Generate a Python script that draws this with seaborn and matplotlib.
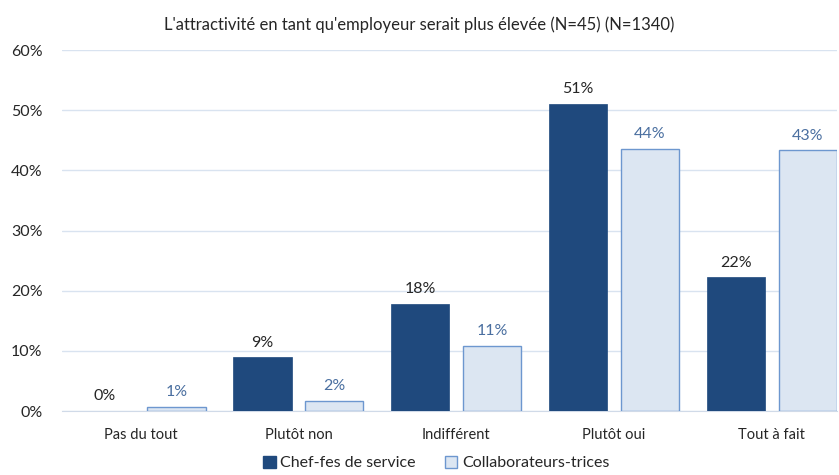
import matplotlib
matplotlib.use("Agg")
import matplotlib.pyplot as plt
import seaborn as sns
import pandas as pd
from matplotlib.patches import Patch

# data
categories = ["Pas du tout", "Plutôt non", "Indifférent", "Plutôt oui", "Tout à fait"]
chefs = [0.0, 8.9, 17.8, 51.1, 22.2]
collabs = [0.7, 1.7, 10.8, 43.6, 43.3]
series = ["Chef-fes de service", "Collaborateurs-trices"]
title = "L'attractivité en tant qu'employeur serait plus élevée (N=45) (N=1340)"

dark = "#1F497D"
light = "#DCE6F2"
light_edge = "#6D97CF"
label_blue = "#4A6FA0"
text_col = "#262626"

df = pd.DataFrame({
    "cat": categories * 2,
    "val": chefs + collabs,
    "grp": [series[0]] * 5 + [series[1]] * 5,
})

sns.set_style("white")
plt.rcParams["font.family"] = ["Lato", "DejaVu Sans"]

fig = plt.figure(figsize=(8.39, 4.75), dpi=100)
ax = fig.add_axes([0.074, 0.1347, 0.924, 0.76])

sns.barplot(data=df, x="cat", y="val", hue="grp", order=categories,
            hue_order=series, palette=[dark, light], saturation=1,
            width=0.91, gap=0.19, legend=False, ax=ax, zorder=3)

for bar in ax.patches[5:]:
    bar.set_edgecolor(light_edge)
    bar.set_linewidth(1.0)
for bar in ax.patches[:5]:
    bar.set_edgecolor(dark)
    bar.set_linewidth(0.5)

for bar, v in zip(ax.patches[:5], chefs):
    ax.text(bar.get_x() + bar.get_width() / 2, v + 1.3, f"{round(v)}%",
            ha="center", va="bottom", fontsize=11.5, color=text_col)
for bar, v in zip(ax.patches[5:], collabs):
    ax.text(bar.get_x() + bar.get_width() / 2, v + 1.3, f"{round(v)}%",
            ha="center", va="bottom", fontsize=11.5, color=label_blue)

ax.set_ylim(0, 60)
ax.set_xlim(-0.498, 4.415)
ax.set_yticks(range(0, 61, 10))
ax.set_yticklabels([f"{t}%" for t in range(0, 61, 10)], fontsize=11.5, color=text_col)
ax.tick_params(axis="x", labelsize=10.5, colors=text_col, length=0, pad=12)
ax.tick_params(axis="y", length=0, pad=14)
ax.grid(axis="y", color="#D9E3F0", linewidth=1, zorder=0)
ax.set_xlabel("")
ax.set_ylabel("")
for s in ["top", "right", "left"]:
    ax.spines[s].set_visible(False)
ax.spines["bottom"].set_color("#D0DAE8")

fig.suptitle(title, y=0.965, fontsize=12, color=text_col)

handles = [Patch(facecolor=dark, edgecolor=dark),
           Patch(facecolor=light, edgecolor=light_edge)]
fig.legend(handles, series, loc="center", bbox_to_anchor=(0.52, 0.025), ncol=2,
           frameon=False, fontsize=11.5, handlelength=0.8, handleheight=0.8,
           handletextpad=0.3, columnspacing=1.8)

fig.savefig("out.png", dpi=100)
